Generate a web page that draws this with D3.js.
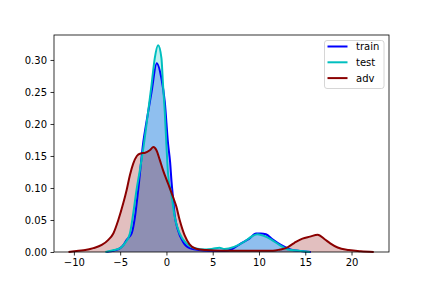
<html>
<head><meta charset="utf-8"></head>
<script src="https://d3js.org/d3.v7.min.js"></script>
<body style="margin:0">
<script>
// density curves
var trainX = [-6.5, -6.0, -5.5, -5.0, -4.6, -4.3, -3.76, -3.4, -3.05, -2.5, -2.15, -1.61, -1.05, -0.54, -0.18, 0.17, 0.4, 0.55, 0.71, 0.89, 1.25, 1.78, 2.5, 3.5, 4.5, 5.5, 6.3, 7.0, 8.06, 8.96, 9.68, 10.2, 10.75, 11.46, 12.37, 13.4, 14.5, 15.6]
var trainY = [0, 0.001, 0.003, 0.006, 0.012, 0.019, 0.029, 0.055, 0.097, 0.172, 0.204, 0.25, 0.295, 0.271, 0.235, 0.17, 0.14, 0.11, 0.085, 0.058, 0.034, 0.016, 0.006, 0.003, 0.002, 0.002, 0.002, 0.004, 0.0135, 0.021, 0.029, 0.029, 0.0277, 0.0198, 0.011, 0.004, 0.0015, 0]

var testX = [-6.6, -6.0, -5.7, -5.0, -4.5, -3.95, -3.59, -3.23, -2.87, -2.5, -1.98, -1.61, -1.26, -0.9, -0.54, -0.37, -0.18, 0.0, 0.17, 0.54, 0.89, 1.43, 2.15, 3.04, 4.3, 5.0, 5.73, 6.27, 7.3, 8.4, 9.3, 9.85, 10.57, 11.3, 12.2, 13.1, 14.5, 15.5]
var testY = [0, 0.002, 0.003, 0.006, 0.0135, 0.029, 0.06, 0.097, 0.128, 0.162, 0.219, 0.261, 0.303, 0.323, 0.303, 0.261, 0.219, 0.167, 0.123, 0.09, 0.055, 0.029, 0.0135, 0.006, 0.004, 0.005, 0.0067, 0.0047, 0.008, 0.016, 0.025, 0.0277, 0.025, 0.0198, 0.011, 0.004, 0.0016, 0]

var advX = [-10.58, -9.5, -8.78, -7.9, -6.99, -6.28, -5.74, -5.2, -4.67, -4.3, -3.95, -3.59, -3.2, -2.8, -2.3, -1.8, -1.4, -1.08, -0.72, -0.37, 0.17, 0.71, 1.07, 1.43, 1.97, 2.5, 3.2, 4.3, 6, 8, 10, 11.5, 12.3, 12.9, 13.8, 14.7, 15.5, 16.35, 17.1, 17.7, 18.5, 19.7, 21, 22.4]
var advY = [0, 0.002, 0.003, 0.006, 0.011, 0.019, 0.029, 0.05, 0.076, 0.097, 0.12, 0.138, 0.15, 0.154, 0.155, 0.159, 0.164, 0.159, 0.144, 0.128, 0.107, 0.086, 0.071, 0.05, 0.026, 0.012, 0.005, 0.003, 0.002, 0.002, 0.002, 0.002, 0.004, 0.006, 0.014, 0.021, 0.024, 0.027, 0.02, 0.0135, 0.007, 0.003, 0.001, 0]

var names = ['train', 'test', 'adv']
var colors = ['#0000ff', '#00bfbf', '#8b0000']
var xTicks = [-10, -5, 0, 5, 10, 15, 20]
var yTicks = [0, 0.05, 0.10, 0.15, 0.20, 0.25, 0.30]

var width = 432, height = 288
var m = {left: 54, top: 35, right: 43, bottom: 36}
var svg = d3.select('body').append('svg').attr('width', width).attr('height', height)
    .style('font-family', 'DejaVu Sans').style('font-size', '10px')

var x = d3.scaleLinear().domain([-12.15, 24.05]).range([m.left, width - m.right])
var y = d3.scaleLinear().domain([0, 0.339]).range([height - m.bottom, m.top])

var series = [d3.zip(trainX, trainY), d3.zip(testX, testY), d3.zip(advX, advY)]

var area = d3.area().curve(d3.curveMonotoneX).x(function(d){return x(d[0])}).y0(y(0)).y1(function(d){return y(d[1])})
var line = d3.line().curve(d3.curveMonotoneX).x(function(d){return x(d[0])}).y(function(d){return y(d[1])})

var plot = svg.append('g')
series.forEach(function(s, i) {
    plot.append('path').attr('d', area(s)).attr('fill', colors[i]).attr('fill-opacity', 0.25)
})
series.forEach(function(s, i) {
    plot.append('path').attr('d', line(s)).attr('fill', 'none').attr('stroke', colors[i]).attr('stroke-width', 2)
})

var gx = svg.append('g').attr('transform', `translate(0, ${height - m.bottom})`)
    .call(d3.axisBottom(x).tickValues(xTicks).tickSize(3.5).tickPadding(3.5))
var gy = svg.append('g').attr('transform', `translate(${m.left}, 0)`)
    .call(d3.axisLeft(y).tickValues(yTicks).tickFormat(d3.format('.2f')).tickSize(3.5).tickPadding(3.5))
svg.selectAll('.domain').remove()
svg.selectAll('.tick line').attr('stroke', '#000').attr('stroke-width', 0.8)
svg.selectAll('.tick text').attr('fill', '#000').style('font-family', 'DejaVu Sans').style('font-size', '10px')

svg.append('rect').attr('x', m.left).attr('y', m.top)
    .attr('width', width - m.left - m.right).attr('height', height - m.top - m.bottom)
    .attr('fill', 'none').attr('stroke', '#000').attr('stroke-width', 0.8)

// legend
var lg = svg.append('g')
lg.append('rect').attr('x', 324.5).attr('y', 40.5).attr('width', 59.5).attr('height', 48)
    .attr('rx', 2.5).attr('fill', 'white').attr('fill-opacity', 0.8).attr('stroke', '#cccccc').attr('stroke-width', 0.8)
names.forEach(function(n, i) {
    var yy = 46.5 + i * 15.8
    lg.append('line').attr('x1', 327.5).attr('x2', 347.5).attr('y1', yy).attr('y2', yy)
        .attr('stroke', colors[i]).attr('stroke-width', 2)
    lg.append('text').attr('x', 356).attr('y', yy + 3.6).text(n)
})
</script>
</body>
</html>
